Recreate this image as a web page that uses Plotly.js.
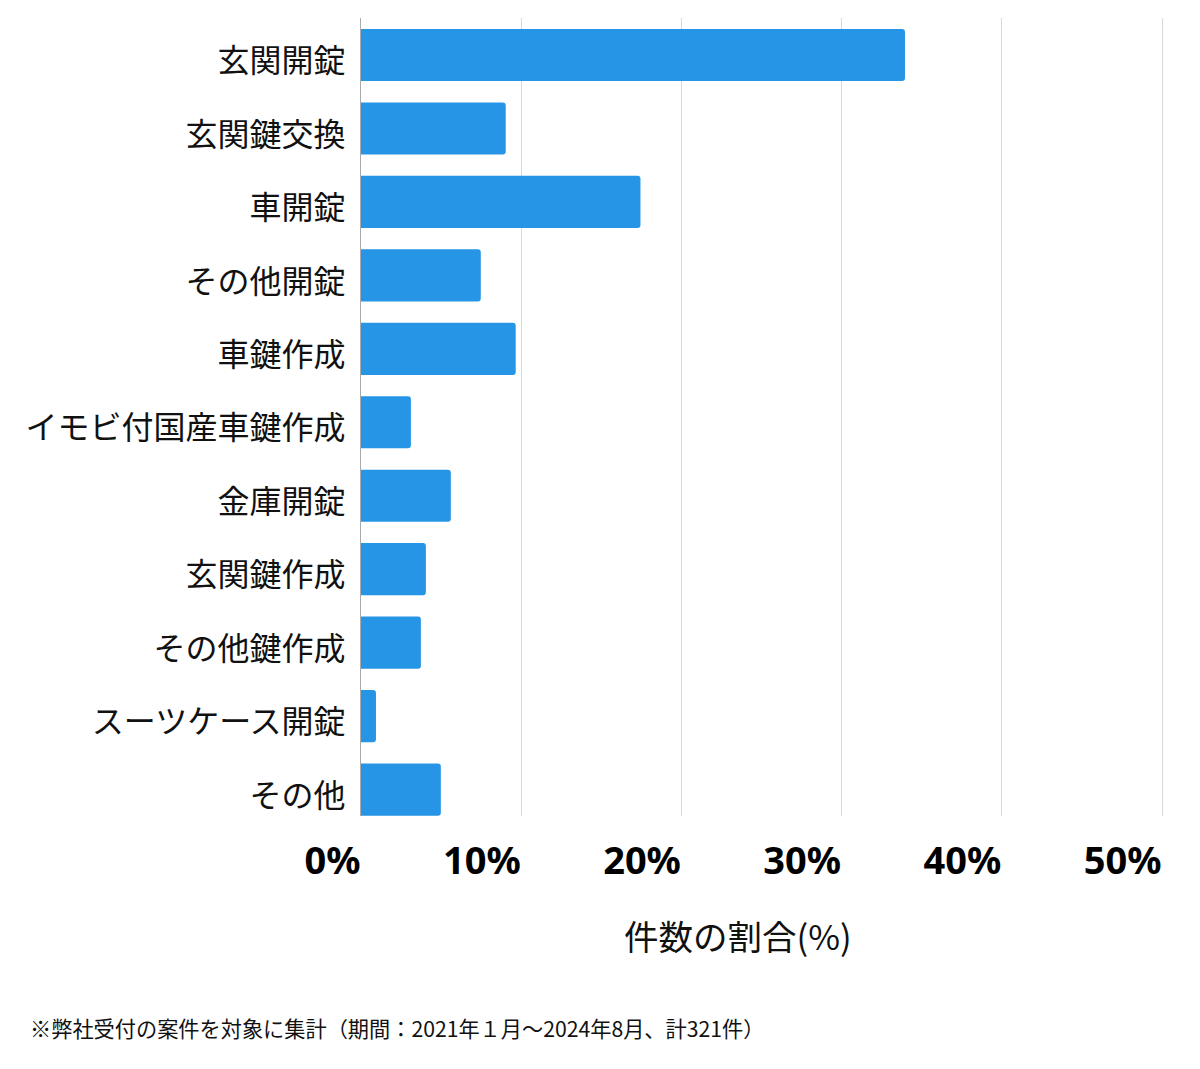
<!DOCTYPE html>
<html>
<head>
<meta charset="utf-8">
<script src="https://cdn.plot.ly/plotly-3.0.1.min.js"></script>
<style>html,body{margin:0;padding:0;background:#fff;}#chart{width:1200px;height:1069px;}</style>
</head>
<body>
<div id="chart"></div>
<script>
const categories = ["玄関開錠","玄関鍵交換","車開錠","その他開錠","車鍵作成","イモビ付国産車鍵作成","金庫開錠","玄関鍵作成","その他鍵作成","スーツケース開錠","その他"];
const counts = [109,29,56,24,31,10,18,13,12,3,16];
const total = 321;
const shares = counts.map(c => c / total * 100);
const tickValues = [0,10,20,30,40,50];
const tickLabels = ["0%","10%","20%","30%","40%","50%"];
const axisTitle = "件数の割合(%)";
const footnote = "※弊社受付の案件を対象に集計（期間：2021年１月～2024年8月、計321件）";

const font = "'Noto Sans CJK JP', 'Noto Sans', sans-serif";
const latinFont = "'Noto Sans', 'Open Sans', sans-serif";

const trace = {
  type: "bar",
  orientation: "h",
  y: categories,
  x: shares,
  marker: {color: "#2695e5"},
  width: 0.71,
  hoverinfo: "none"
};

const layout = {
  width: 1200, height: 1069,
  margin: {l: 361, r: 36, t: 18, b: 253},
  paper_bgcolor: "#fff", plot_bgcolor: "#fff",
  showlegend: false,
  barcornerradius: 3,
  font: {family: font, color: "#111"},
  xaxis: {
    range: [0, 50.125],
    tickvals: tickValues,
    ticktext: tickLabels,
    ticklabelposition: "outside left",
    ticks: "outside", ticklen: 0,
    ticklabelstandoff: 11,
    tickfont: {family: latinFont, size: 38, weight: "bold", color: "#000"},
    showgrid: true, gridcolor: "#d9d9d9", gridwidth: 1,
    zeroline: false,
    showline: false,
    fixedrange: true
  },
  yaxis: {
    type: "category",
    range: [10.36, -0.504],
    ticks: "", ticklabelstandoff: 8,
    ticklabelshift: -6,
    tickfont: {family: font, size: 32, color: "#111"},
    showgrid: false, zeroline: false,
    showline: true, linecolor: "#aaa", linewidth: 1,
    fixedrange: true
  },
  annotations: [
    {text: axisTitle, xref: "paper", yref: "paper", x: (738-361)/803, y: -(935-816)/798,
     xanchor: "center", yanchor: "middle", showarrow: false,
     font: {family: font, size: 34.5, color: "#111"}},
    {text: footnote, xref: "paper", yref: "paper", x: (28-361)/803, y: -(1027-816)/798,
     xanchor: "left", yanchor: "middle", showarrow: false,
     font: {family: font, size: 21.2, color: "#111"}}
  ]
};

Plotly.newPlot("chart", [trace], layout, {staticPlot: true, displayModeBar: false});
</script>
</body>
</html>
